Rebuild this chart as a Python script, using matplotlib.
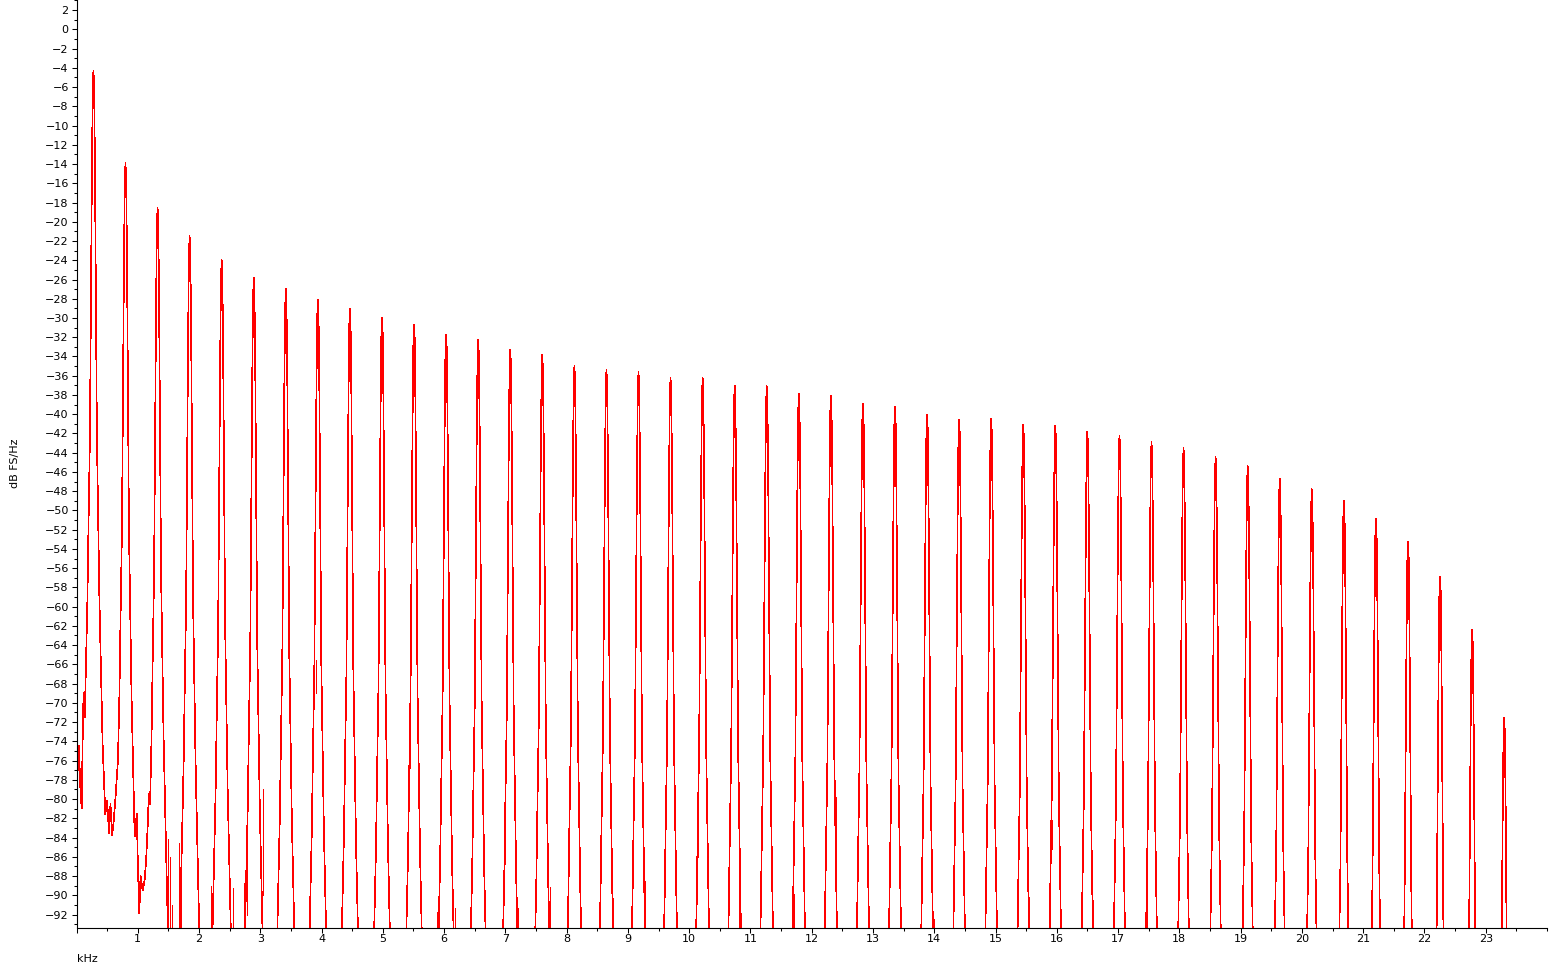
import matplotlib
matplotlib.use("Agg")
import matplotlib.pyplot as plt
from matplotlib.ticker import MultipleLocator, FixedLocator, FixedFormatter

# ---------------- data ----------------
# harmonic peak frequencies (kHz) and their levels (dB FS/Hz)
peak_khz = [0.276, 0.799, 1.323, 1.846, 2.369, 2.893, 3.416, 3.939, 4.462, 4.986,
            5.509, 6.032, 6.556, 7.079, 7.602, 8.126, 8.649, 9.172, 9.695, 10.219,
            10.742, 11.265, 11.789, 12.312, 12.835, 13.358, 13.882, 14.405, 14.928, 15.452,
            15.975, 16.498, 17.022, 17.545, 18.068, 18.591, 19.115, 19.638, 20.161, 20.685,
            21.208, 21.731, 22.254, 22.778, 23.301]
peak_db = [-4.3, -13.9, -18.5, -21.5, -24.0, -25.8, -27.0, -28.1, -29.0, -30.0,
           -30.7, -31.7, -32.3, -33.3, -33.85, -35.0, -35.4, -35.6, -36.2, -36.2,
           -37.0, -37.1, -37.9, -38.1, -38.9, -39.25, -40.1, -40.6, -40.5, -41.1,
           -41.2, -41.85, -42.2, -42.9, -43.5, -44.45, -45.4, -46.7, -47.8, -49.0,
           -50.9, -53.3, -56.9, -62.4, -71.6]

# shape of one spectral line: offset from the peak (kHz) and level relative to the peak (dB)
lobe_off_khz = [-0.180, -0.150, -0.122, -0.098, -0.082, -0.057, -0.041, -0.024, -0.011, 0.0,
                0.011, 0.024, 0.041, 0.057, 0.082, 0.098, 0.122, 0.150, 0.180]
lobe_rel_db = [-78, -70, -62, -55, -48, -38, -24, -10, -2, 0,
               -1.5, -9, -24, -38, -48, -55, -62, -70, -78]

# lowest level reached in each gap between neighbouring peaks (-120 = below the axis)
lead_floor_db = -70
gap_floor_db = [-82, -85, -120, -120, -120, -120, -120, -120, -120, -120,
                -120, -120, -120, -120, -120, -120, -120, -120, -120, -120,
                -120, -120, -120, -120, -120, -120, -120, -120, -120, -120,
                -120, -120, -120, -120, -120, -120, -120, -120, -120, -120,
                -120, -120, -120, -120]

# low-frequency noise floor before the first peak and in the first two gaps
floor_khz = [0.0, 0.015, 0.04, 0.06, 0.085, 0.1, 0.115, 0.135,
             0.47, 0.50, 0.53, 0.555, 0.58, 0.605, 0.635,
             0.985, 1.0, 1.025, 1.045, 1.08, 1.11, 1.135, 1.16, 1.18,
             24.0]
floor_db = [-80.5, -77.5, -74.5, -78.5, -81, -74, -69, -71.5,
            -81.6, -80.2, -83.5, -80.5, -83.8, -82.5, -80.0,
            -81.5, -86.5, -91.9, -88.0, -89.5, -88.5, -86.5, -83.1, -79.5,
            -120]

# small spurious spikes between the harmonics: frequency, low and high level
spur_khz = [0.39, 1.499, 1.53, 1.555, 1.681, 1.705, 1.95, 2.19, 2.55, 2.73,
            2.785, 3.04, 3.50, 3.905, 4.34, 4.56, 5.44, 5.885, 5.94, 6.17,
            6.62, 7.00, 7.21, 7.72, 8.54, 8.59, 8.76, 9.28, 10.09, 10.15,
            10.82, 11.71, 12.39, 13.25, 13.93, 13.99, 15.54, 15.92, 16.59, 17.09,
            17.47, 18.645]
spur_lo = [-66, -120, -120, -120, -120, -120, -80, -120, -120, -120,
           -92, -90, -80.5, -69, -120, -86, -76.8, -120, -82.7, -120,
           -77.2, -86.7, -120, -120, -120, -72.6, -120, -120, -120, -86,
           -120, -120, -89.5, -120, -78.5, -120, -120, -85.2, -120, -87.8,
           -120, -83.5]
spur_hi = [-62, -84.2, -86, -91, -84.6, -88, -76.5, -89, -89.2, -88.7,
           -81.5, -79, -77, -65.5, -88, -82, -74.3, -91.7, -80, -91.3,
           -73.3, -82.5, -91.3, -89.1, -88, -72, -90.3, -88.5, -92.7, -77.5,
           -88.8, -89.9, -79.8, -92.8, -76, -92.5, -90.2, -82.2, -90.5, -85.8,
           -89.3, -81]

x_tick_labels = [str(v) for v in range(1, 24)]

# ---------------- build the spectrum polyline ----------------
verts = list(zip(floor_khz, floor_db))
n = len(peak_khz)
for k in range(n):
    left_floor = lead_floor_db if k == 0 else gap_floor_db[k - 1]
    right_floor = gap_floor_db[k] if k < n - 1 else -200
    for off, rel in zip(lobe_off_khz, lobe_rel_db):
        lvl = peak_db[k] + rel
        fl = left_floor if off < 0 else right_floor
        if lvl >= fl:
            verts.append((peak_khz[k] + off, lvl))
    if k < n - 1 and gap_floor_db[k] <= -100:
        verts.append(((peak_khz[k] + peak_khz[k + 1]) / 2, gap_floor_db[k]))
verts.sort()
xs = [v[0] for v in verts]
ys = [v[1] for v in verts]

# ---------------- figure ----------------
W, H = 1549, 965
fig = plt.figure(figsize=(W / 100, H / 100), dpi=100)
ax_left, ax_right, ax_bottom, ax_top = 76.5, 1547, 37.5, 965
ax = fig.add_axes([ax_left / W, ax_bottom / H, (ax_right - ax_left) / W, (ax_top - ax_bottom) / H])

red = "#ff0000"
ax.plot(xs, ys, color=red, lw=0.5, antialiased=False)
ax.vlines(spur_khz, spur_lo, spur_hi, color=red, lw=0.5, antialiased=False)

ax.set_xlim(0, 24)
ax.set_ylim(-93.35, 3.05)

for s in ("top", "right"):
    ax.spines[s].set_visible(False)
for s in ("left", "bottom"):
    ax.spines[s].set_linewidth(0.8)
    ax.spines[s].set_color("black")

ax.yaxis.set_major_locator(MultipleLocator(2))
ax.yaxis.set_minor_locator(MultipleLocator(1))
ax.xaxis.set_major_locator(FixedLocator(list(range(0, 24))))
ax.xaxis.set_major_formatter(FixedFormatter([""] + x_tick_labels))
ax.xaxis.set_minor_locator(MultipleLocator(0.5))

ax.tick_params(axis="both", which="major", direction="out", length=3.6, width=0.75,
               labelsize=8, colors="black")
ax.tick_params(axis="both", which="minor", direction="out", length=2.2, width=0.75)
ax.tick_params(axis="y", which="major", pad=2.0)
ax.tick_params(axis="x", which="major", pad=1.0)

fig.text(ax_left / W, 2.5 / H, "kHz", fontsize=8, ha="left", va="baseline")
fig.text(15 / W, 1 - 463 / H, "dB FS/Hz", fontsize=8, rotation=90, ha="center", va="center")

fig.savefig("out.png", dpi=100)
